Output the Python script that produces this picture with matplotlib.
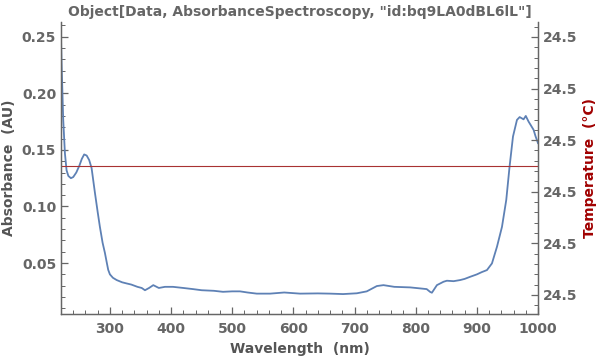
import matplotlib
matplotlib.use('Agg')
import matplotlib.pyplot as plt
from matplotlib.ticker import MultipleLocator, AutoMinorLocator, FormatStrFormatter

# Absorbance spectrum
wavelength = [220, 221, 223.6, 226.4, 229.1, 232, 236.2, 240, 245, 250, 254, 257.9,
              262, 266.1, 270, 275.5, 280, 283.6, 288, 291.8, 295, 297.2, 300, 304.9,
              311, 320, 327.3, 335, 345, 352, 357.3, 364, 370.9, 380, 390, 403.1,
              420, 435.8, 450, 470, 484.9, 500, 512.8, 525, 540.1, 561.9, 585, 611,
              640, 660, 681.3, 703.8, 720, 736.5, 747.3, 765, 791, 807.4, 818, 823.7,
              826.5, 834.7, 845.5, 851, 862, 872.8, 880, 889.2, 900, 908, 916.5,
              924.7, 932.9, 941.1, 948.1, 953.5, 959.1, 965.6, 970, 976.4, 980,
              984.6, 988, 992.8, 996, 1000]
absorbance = [0.249, 0.225, 0.177, 0.147, 0.132, 0.127, 0.125, 0.126, 0.130, 0.136,
              0.142, 0.146, 0.145, 0.141, 0.134, 0.112, 0.095, 0.082, 0.068, 0.059,
              0.050, 0.044, 0.040, 0.037, 0.035, 0.033, 0.032, 0.031, 0.029, 0.028,
              0.026, 0.028, 0.0305, 0.028, 0.029, 0.029, 0.028, 0.027, 0.026, 0.0255,
              0.0246, 0.025, 0.025, 0.024, 0.023, 0.023, 0.024, 0.023, 0.0232, 0.023,
              0.0226, 0.0233, 0.025, 0.0297, 0.0305, 0.029, 0.0285, 0.0276, 0.027,
              0.0245, 0.0238, 0.0305, 0.0335, 0.0344, 0.034, 0.035, 0.036, 0.0379,
              0.040, 0.042, 0.0438, 0.0497, 0.0644, 0.082, 0.1058, 0.1352, 0.1618,
              0.1765, 0.179, 0.177, 0.180, 0.175, 0.172, 0.1677, 0.162, 0.156]

temperature = 24.5
temp_ticks = [24.4975, 24.4985, 24.4995, 24.5005, 24.5015, 24.5025]

grey = '#666666'
label_grey = '#555555'

fig = plt.figure(figsize=(6, 3.58), dpi=100)
ax = fig.add_axes([61 / 600, 1 - 314 / 358, 477 / 600, 292 / 358])
ax.plot(wavelength, absorbance, color='#5E81B5', lw=1.3)
ax.set_xlim(220, 1000)
ax.set_ylim(0.005, 0.263)

ax.xaxis.set_major_locator(MultipleLocator(100))
ax.xaxis.set_minor_locator(MultipleLocator(20))
ax.yaxis.set_major_locator(MultipleLocator(0.05))
ax.yaxis.set_minor_locator(MultipleLocator(0.01))
ax.yaxis.set_major_formatter(FormatStrFormatter('%.2f'))

ax2 = ax.twinx()
ax2.axhline(temperature, color='#A83232', lw=0.8)
ax2.set_ylim(24.49713, 24.50279)
ax2.set_yticks(temp_ticks)
ax2.yaxis.set_minor_locator(AutoMinorLocator(5))
ax2.yaxis.set_major_formatter(FormatStrFormatter('%.1f'))

for a in (ax, ax2):
    a.spines['top'].set_visible(False)
    for s in a.spines.values():
        s.set_color(grey)
        s.set_linewidth(0.9)
    a.tick_params(which='major', direction='in', length=5, width=0.9, color=grey,
                  labelcolor=grey, labelsize=10)
    a.tick_params(which='minor', direction='in', length=3, width=0.7, color=grey)
    for lab in a.get_xticklabels() + a.get_yticklabels():
        lab.set_fontweight('bold')
ax.tick_params(axis='x', pad=6)

ax.set_xlabel('Wavelength  (nm)', fontsize=10, fontweight='bold', color=label_grey, labelpad=4)
ax.set_ylabel('Absorbance  (AU)', fontsize=10, fontweight='bold', color=label_grey)
ax2.set_ylabel('Temperature  (°C)', fontsize=10, fontweight='bold', color='#A00000')
ax.set_title('Object[Data, AbsorbanceSpectroscopy, "id:bq9LA0dBL6lL"]',
             fontsize=10, fontweight='bold', color=grey, pad=4)

fig.savefig('out.png', dpi=100)
